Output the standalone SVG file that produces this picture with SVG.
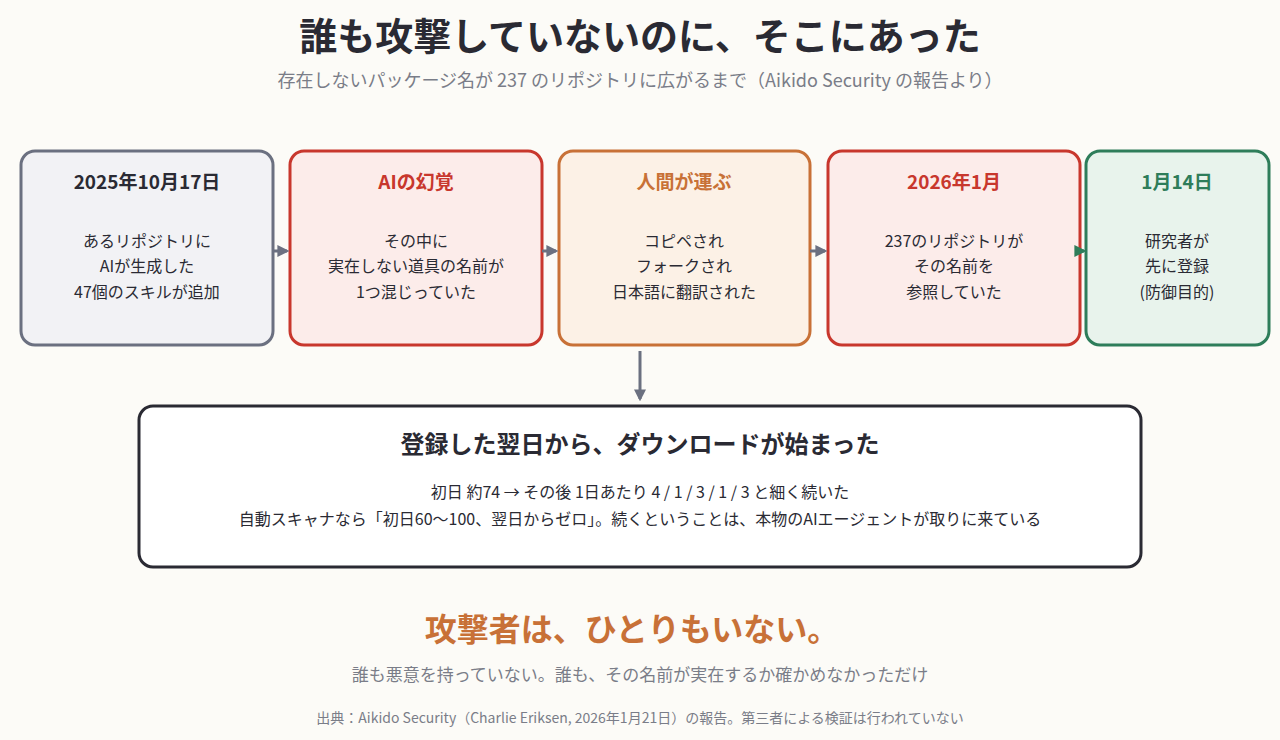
<svg xmlns="http://www.w3.org/2000/svg" width="1280" height="740" viewBox="0 0 1280 740">
<style>
text{font-family:"Noto Sans CJK JP","Noto Sans",sans-serif;text-anchor:middle}
.h{font-size:19px;font-weight:bold}
.b{font-size:16px;fill:#2a2a33}
.box{stroke-width:3}
</style>
<defs>
<marker id="ag" viewBox="0 0 10 10" refX="8" refY="5" markerWidth="4" markerHeight="4" orient="auto"><path d="M0,0L10,5L0,10z" fill="#6b7080"/></marker>
<marker id="agr" viewBox="0 0 10 10" refX="8" refY="5" markerWidth="4" markerHeight="4" orient="auto"><path d="M0,0L10,5L0,10z" fill="#2e7d5a"/></marker>
</defs>
<rect width="1280" height="740" fill="#fcfbf7"/>
<text x="640" y="50" font-size="38" font-weight="bold" fill="#2a2a33">誰も攻撃していないのに、そこにあった</text>
<text x="640" y="87" font-size="18" fill="#7a7d88">存在しないパッケージ名が 237 のリポジトリに広がるまで（Aikido Security の報告より）</text>
<g id="n1"><rect class="box" x="21" y="151" width="252" height="194" rx="14" fill="#f2f2f5" stroke="#6b7080"/>
<text class="h" x="147" y="189" fill="#2a2a33">2025年10月17日</text>
<text class="b" x="147" y="247">あるリポジトリに</text><text class="b" x="147" y="272">AIが生成した</text><text class="b" x="147" y="298">47個のスキルが追加</text></g>
<g id="n2"><rect class="box" x="290" y="151" width="252" height="194" rx="14" fill="#fcecea" stroke="#c8372d"/>
<text class="h" x="416" y="189" fill="#c8372d">AIの幻覚</text>
<text class="b" x="416" y="247">その中に</text><text class="b" x="416" y="272">実在しない道具の名前が</text><text class="b" x="416" y="298">1つ混じっていた</text></g>
<g id="n3"><rect class="box" x="559" y="151" width="251" height="194" rx="14" fill="#fcf1e6" stroke="#c87137"/>
<text class="h" x="684" y="189" fill="#c87137">人間が運ぶ</text>
<text class="b" x="684" y="247">コピペされ</text><text class="b" x="684" y="272">フォークされ</text><text class="b" x="684" y="298">日本語に翻訳された</text></g>
<g id="n4"><rect class="box" x="828" y="151" width="252" height="194" rx="14" fill="#fcecea" stroke="#c8372d"/>
<text class="h" x="954" y="189" fill="#c8372d">2026年1月</text>
<text class="b" x="954" y="247">237のリポジトリが</text><text class="b" x="954" y="272">その名前を</text><text class="b" x="954" y="298">参照していた</text></g>
<g id="n5"><rect class="box" x="1086" y="151" width="183" height="194" rx="14" fill="#e8f3ec" stroke="#2e7d5a"/>
<text class="h" x="1177" y="189" fill="#2e7d5a">1月14日</text>
<text class="b" x="1177" y="247">研究者が</text><text class="b" x="1177" y="272">先に登録</text><text class="b" x="1177" y="298">(防御目的)</text></g>
<g id="connectors" stroke-width="3" fill="none">
<line x1="273" y1="251" x2="287" y2="251" stroke="#6b7080" marker-end="url(#ag)"/>
<line x1="542" y1="251" x2="556" y2="251" stroke="#6b7080" marker-end="url(#ag)"/>
<line x1="810" y1="251" x2="825" y2="251" stroke="#6b7080" marker-end="url(#ag)"/>
<line x1="1080" y1="251" x2="1084" y2="251" stroke="#2e7d5a" marker-end="url(#agr)"/>
<line x1="640" y1="351" x2="640" y2="399" stroke="#6b7080" marker-end="url(#ag)"/>
</g>
<g id="n6"><rect x="139" y="406" width="1002" height="161" rx="14" fill="#ffffff" stroke="#2a2a33" stroke-width="3"/>
<text x="640" y="453" font-size="24" font-weight="bold" fill="#2a2a33">登録した翌日から、ダウンロードが始まった</text>
<text class="b" x="640" y="498" font-size="17">初日 約74 → その後 1日あたり 4 / 1 / 3 / 1 / 3 と細く続いた</text>
<text class="b" x="640" y="525" font-size="17">自動スキャナなら「初日60〜100、翌日からゼロ」。続くということは、本物のAIエージェントが取りに来ている</text></g>
<text x="632" y="641" font-size="32" font-weight="bold" fill="#c87137">攻撃者は、ひとりもいない。</text>
<text x="640" y="681" font-size="17" fill="#7a7d88">誰も悪意を持っていない。誰も、その名前が実在するか確かめなかっただけ</text>
<text x="640" y="723" font-size="14" fill="#7a7d88">出典：Aikido Security（Charlie Eriksen, 2026年1月21日）の報告。第三者による検証は行われていない</text>
</svg>
